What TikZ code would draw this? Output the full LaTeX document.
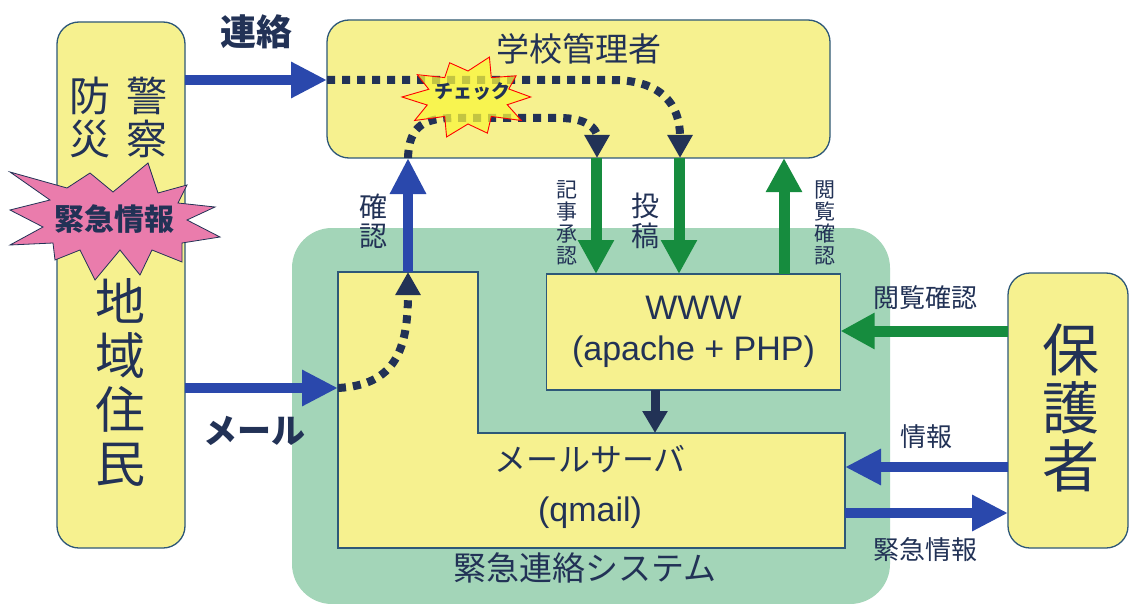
\documentclass[tikz,border=0pt]{standalone}
\usepackage{fontspec}
\setmainfont{Liberation Sans}
\newfontfamily\jp{Noto Sans CJK JP}
\usetikzlibrary{arrows.meta,calc}
\definecolor{boxyellow}{RGB}{246,241,143}
\definecolor{boxline}{RGB}{46,88,120}
\definecolor{sysgreen}{RGB}{163,213,184}
\definecolor{arrblue}{RGB}{42,72,172}
\definecolor{arrgreen}{RGB}{22,140,62}
\definecolor{txtnavy}{RGB}{34,50,86}
\definecolor{burstpink}{RGB}{234,124,172}
\definecolor{burstyellow}{RGB}{250,246,60}
\tikzset{>=Triangle}
\tikzset{
  box/.style={draw=boxline, fill=boxyellow, line width=1.3pt, inner sep=0pt, outer sep=0pt},
  rbox/.style={box, rounded corners=22pt},
  area/.style={inner sep=0pt, outer sep=0pt},
  blueflow/.style={draw=arrblue, line width=10pt, -{Triangle[length=36pt,width=34pt]}},
  greenflow/.style={draw=arrgreen, line width=11pt, -{Triangle[length=34pt,width=34pt]}},
  navyflow/.style={draw=txtnavy, line width=9pt, -{Triangle[length=22pt,width=24pt]}},
  dotflow/.style={draw=txtnavy, line width=8pt, dash pattern=on 8pt off 7pt,
    -{Triangle[length=23pt,width=24pt]}},
  lbl/.style={text=txtnavy, inner sep=0pt, align=center},
  jpsize/.style={font=\jp\fontsize{#1}{#1}\selectfont},
  jpcol/.style 2 args={font=\jp\fontsize{#1}{#2}\selectfont},
}

\begin{document}
\begin{tikzpicture}[x=1pt, y=-1pt]
  \fill[white] (0,0) rectangle (1131,604);
  \useasboundingbox (0,0) rectangle (1131,604);

  % system area
  \node[area, fill=sysgreen, rounded corners=40pt, minimum width=598pt, minimum height=376pt] (system) at (591,416) {};
  \node[lbl, jpsize=33pt] (systitle) at (585,568) {緊急連絡システム};

  % boxes
  \node[rbox, minimum width=128pt, minimum height=526pt] (resident) at (121,285) {};
  \node[rbox, minimum width=503pt, minimum height=138pt] (admin) at (578.5,89) {};
  \node[rbox, minimum width=120pt, minimum height=275pt] (parent) at (1068,410.5) {};
  \node[box, minimum width=294pt, minimum height=116pt, text=txtnavy, align=center,
    font=\fontsize{34pt}{41pt}\selectfont] (www) at (693.5,332) {WWW\\(apache + PHP)};
  \node[area, minimum width=140pt, minimum height=276pt] (mailin) at (408,410) {};
  \node[area, minimum width=507pt, minimum height=115pt] (mailsrv) at (591.5,490.5) {};
  \draw[box] (mailin.north west) -- (mailin.north east) -- (mailin.east |- mailsrv.north)
    -- (mailsrv.north east) -- (mailsrv.south east) -- (mailin.south west) -- cycle;
  \node[lbl, font=\fontsize{34pt}{50pt}\selectfont] (mailtxt) at (590,487) {{\jp\fontsize{32pt}{32pt}\selectfont メールサーバ}\\(qmail)};

  % box texts
  \node[lbl, jpsize=33pt] (admintitle) at (579,49) {学校管理者};
  \node[lbl, jpcol={41pt}{43pt}] (bosai) at (90,117) {防\\災};
  \node[lbl, jpcol={41pt}{43pt}] (keisatsu) at (147,117) {警\\察};
  \node[lbl, jpcol={50pt}{54pt}] (jumin) at (120,382) {地\\域\\住\\民};
  \node[lbl, jpcol={57pt}{58pt}] (hogosha) at (1071,408) {保\\護\\者};

  % arrows
  \draw[blueflow] (resident.east |- 0,80) -- (admin.west |- 0,80);
  \draw[blueflow] (resident.east |- 0,388) -- (mailin.west |- 0,388);
  \draw[blueflow] (mailin.north) -- (admin.south -| mailin.north);
  \draw[greenflow] (admin.south -| 596,0) -- (www.north -| 596,0);
  \draw[greenflow] (admin.south -| 679,0) -- (www.north -| 679,0);
  \draw[greenflow] (www.north -| 784,0) -- (admin.south -| 784,0);
  \draw[greenflow] (parent.west |- 0,331) -- (www.east |- 0,331);
  \draw[navyflow] (www.south -| 655,0) -- (mailsrv.north -| 655,0);
  \draw[blueflow] (parent.west |- 0,467) -- (mailsrv.east |- 0,467);
  \draw[blueflow] (mailsrv.east |- 0,513) -- (parent.west |- 0,513);

  % dotted routes
  \draw[dotflow] (admin.west |- 0,80) -- (612,80) .. controls (662,80) and (680,105) .. (admin.south -| 680,0);
  \draw[dotflow] (admin.south -| mailin.north) .. controls (409,125) and (425,118) .. (455,118)
    -- (560,118) .. controls (585,118) and (597,128) .. (admin.south -| 597,0);
  \draw[dotflow] (mailin.west |- 0,388) .. controls (395,385) and (408,350) .. (mailin.north);

  % arrow labels
  \node[lbl, font=\jp\bfseries\fontsize{36pt}{36pt}\selectfont] (renraku) at (256,32) {連絡};
  \node[lbl, font=\jp\bfseries\fontsize{34pt}{34pt}\selectfont] (mail) at (254,431) {メール};
  \node[lbl, jpcol={28pt}{29pt}] (kakunin) at (373,221) {確\\認};
  \node[lbl, jpcol={21pt}{22pt}] (shonin) at (567,223) {記\\事\\承\\認};
  \node[lbl, jpcol={28pt}{30pt}] (toko) at (645,221) {投\\稿};
  \node[lbl, jpcol={21pt}{22pt}] (etsuran) at (825,223) {閲\\覧\\確\\認};
  \node[lbl, jpsize=26pt] (etsuranh) at (925,298) {閲覧確認};
  \node[lbl, jpsize=26pt] (joho) at (926,437) {情報};
  \node[lbl, jpsize=26pt] (kinkyu) at (925,550) {緊急情報};

  % bursts
  \draw[draw=txtnavy, fill=burstpink, line width=0.8pt] plot coordinates {
    (148,163) (158,193) (187,185) (178,203) (215,207) (187,220) (220,237) (182,243)
    (182,262) (152,250) (140,275) (120,250) (95,280) (80,250) (55,260) (53,243)
    (10,245) (43,227) (10,210) (50,200) (10,172) (67,188) (90,173) (113,192)} -- cycle;
  \node[lbl, font=\jp\bfseries\fontsize{30pt}{30pt}\selectfont] (alert) at (114,219) {緊急情報};

  \begin{scope}[shift={(468,97)}, xscale=1.65]
    \draw[draw=red, fill=burstyellow, fill opacity=0.75, line width=0.9pt] (0:38)
      \foreach \a/\r in {18/25,36/40,54/24,72/38,90/27,108/42,126/24,144/40,162/26,
        180/40,198/25,216/38,234/24,252/36,270/26,288/42,306/24,324/36,342/26}
      { -- (\a:\r) } -- cycle;
  \end{scope}
  \node[lbl, font=\jp\bfseries\fontsize{19pt}{19pt}\selectfont] (check) at (472,92) {チェック};
\end{tikzpicture}
\end{document}
